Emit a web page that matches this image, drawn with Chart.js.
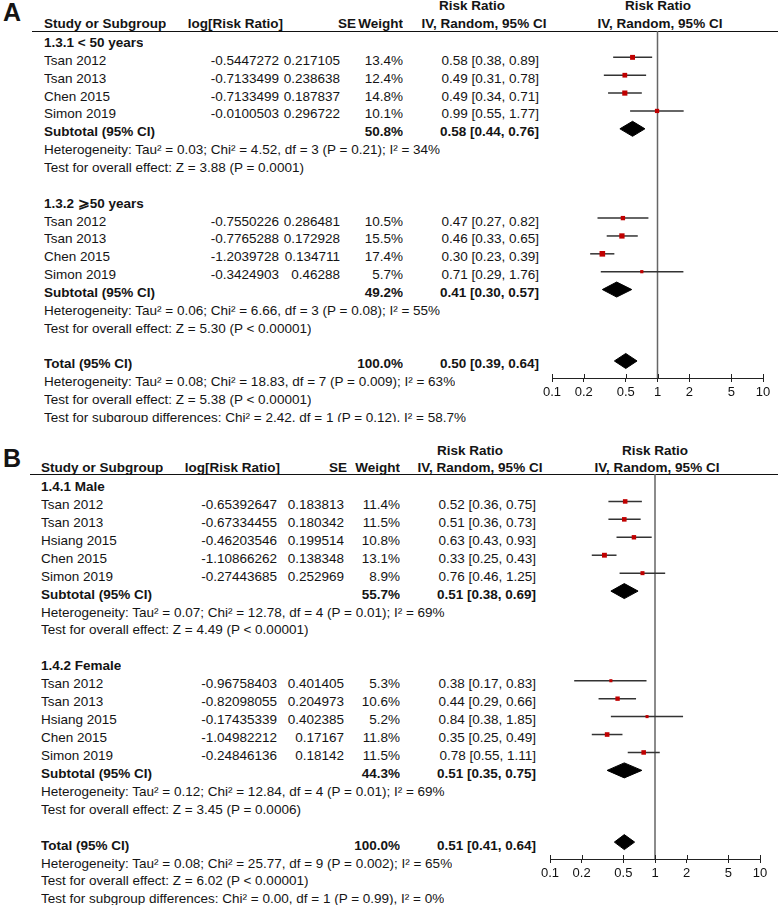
<!DOCTYPE html>
<html>
<head>
<meta charset="utf-8">
<script src="https://cdn.jsdelivr.net/npm/chart.js@4.4.1/dist/chart.umd.min.js"></script>
<style>
    html, body { margin: 0; padding: 0; background: #fff; }
    body { width: 778px; height: 905px; position: relative; overflow: hidden;
           font-family: "Liberation Sans", Arial, sans-serif; color: #141414; }
    .panel { position: absolute; left: 0; width: 778px; overflow: hidden; }
    .t { position: absolute; white-space: nowrap; font-size: 13.5px; height: 18px; line-height: 18px; overflow: hidden; }
    .b { font-weight: bold; }
    .rule { position: absolute; height: 1px; background: #111; }
    .lab { position: absolute; font-weight: bold; font-size: 25px; line-height: 28px; }
    canvas { position: absolute; }
</style>
</head>
<body>
<div id="panelA" class="panel" style="top:0;height:440px"></div>
<div id="panelB" class="panel" style="top:440px;height:465px"></div>
<script>
        // Axis ticks (risk ratio, log scale)
        const tickValues = [0.1, 0.2, 0.5, 1, 2, 5, 10];

        // Panel A, 1.3.1 < 50 years
        const studiesA1 = ['Tsan 2012', 'Tsan 2013', 'Chen 2015', 'Simon 2019'];
        const logRrA1 = [-0.5447272, -0.7133499, -0.7133499, -0.0100503];
        const seA1 = [0.217105, 0.238638, 0.187837, 0.296722];
        const weightA1 = [13.4, 12.4, 14.8, 10.1];
        const rrA1 = [0.58, 0.49, 0.49, 0.99];
        const lowA1 = [0.38, 0.31, 0.34, 0.55];
        const highA1 = [0.89, 0.78, 0.71, 1.77];

        // Panel A, 1.3.2 >= 50 years
        const studiesA2 = ['Tsan 2012', 'Tsan 2013', 'Chen 2015', 'Simon 2019'];
        const logRrA2 = [-0.7550226, -0.7765288, -1.2039728, -0.3424903];
        const seA2 = [0.286481, 0.172928, 0.134711, 0.46288];
        const weightA2 = [10.5, 15.5, 17.4, 5.7];
        const rrA2 = [0.47, 0.46, 0.30, 0.71];
        const lowA2 = [0.27, 0.33, 0.23, 0.29];
        const highA2 = [0.82, 0.65, 0.39, 1.76];

        // Panel B, 1.4.1 Male
        const studiesB1 = ['Tsan 2012', 'Tsan 2013', 'Hsiang 2015', 'Chen 2015', 'Simon 2019'];
        const logRrB1 = ['-0.65392647', '-0.67334455', '-0.46203546', '-1.10866262', '-0.27443685'];
        const seB1 = [0.183813, 0.180342, 0.199514, 0.138348, 0.252969];
        const weightB1 = [11.4, 11.5, 10.8, 13.1, 8.9];
        const rrB1 = [0.52, 0.51, 0.63, 0.33, 0.76];
        const lowB1 = [0.36, 0.36, 0.43, 0.25, 0.46];
        const highB1 = [0.75, 0.73, 0.93, 0.43, 1.25];

        // Panel B, 1.4.2 Female
        const studiesB2 = ['Tsan 2012', 'Tsan 2013', 'Hsiang 2015', 'Chen 2015', 'Simon 2019'];
        const logRrB2 = ['-0.96758403', '-0.82098055', '-0.17435339', '-1.04982212', '-0.24846136'];
        const seB2 = [0.401405, 0.204973, 0.402385, 0.17167, 0.18142];
        const weightB2 = [5.3, 10.6, 5.2, 11.8, 11.5];
        const rrB2 = [0.38, 0.44, 0.84, 0.35, 0.78];
        const lowB2 = [0.17, 0.29, 0.38, 0.25, 0.55];
        const highB2 = [0.83, 0.66, 1.85, 0.49, 1.11];

        // Subtotals (per subgroup) and totals
        const subWeightA = [50.8, 49.2];
        const subRrA = [0.58, 0.41];
        const subLowA = [0.44, 0.30];
        const subHighA = [0.76, 0.57];
        const subWeightB = [55.7, 44.3];
        const subRrB = [0.51, 0.51];
        const subLowB = [0.38, 0.35];
        const subHighB = [0.69, 0.75];
        const totalRr = [0.50, 0.51];
        const totalLow = [0.39, 0.41];
        const totalHigh = [0.64, 0.64];

        const statsA = [
            ['Heterogeneity: Tau² = 0.03; Chi² = 4.52, df = 3 (P = 0.21); I² = 34%', 'Test for overall effect: Z = 3.88 (P = 0.0001)'],
            ['Heterogeneity: Tau² = 0.06; Chi² = 6.66, df = 3 (P = 0.08); I² = 55%', 'Test for overall effect: Z = 5.30 (P < 0.00001)'],
            ['Heterogeneity: Tau² = 0.08; Chi² = 18.83, df = 7 (P = 0.009); I² = 63%', 'Test for overall effect: Z = 5.38 (P < 0.00001)',
             'Test for subgroup differences: Chi² = 2.42, df = 1 (P = 0.12), I² = 58.7%']
        ];
        const statsB = [
            ['Heterogeneity: Tau² = 0.07; Chi² = 12.78, df = 4 (P = 0.01); I² = 69%', 'Test for overall effect: Z = 4.49 (P < 0.00001)'],
            ['Heterogeneity: Tau² = 0.12; Chi² = 12.84, df = 4 (P = 0.01); I² = 69%', 'Test for overall effect: Z = 3.45 (P = 0.0006)'],
            ['Heterogeneity: Tau² = 0.08; Chi² = 25.77, df = 9 (P = 0.002); I² = 65%', 'Test for overall effect: Z = 6.02 (P < 0.00001)',
             'Test for subgroup differences: Chi² = 0.00, df = 1 (P = 0.99), I² = 0%']
        ];

        const fmtCi = (r, l, h) => r.toFixed(2) + ' [' + l.toFixed(2) + ', ' + h.toFixed(2) + ']';

        // tick marks that cross the axis line
        const crossTicks = {
            id: 'crossTicks',
            afterDraw(chart) {
                const s = chart.scales.x;
                const ctx = chart.ctx;
                ctx.save();
                ctx.strokeStyle = '#222';
                ctx.lineWidth = 1;
                s.ticks.forEach(t => {
                    const x = Math.round(s.getPixelForValue(t.value)) + 0.5;
                    ctx.beginPath();
                    ctx.moveTo(x, s.top);
                    ctx.lineTo(x, s.top - 4);
                    ctx.stroke();
                });
                ctx.restore();
            }
        };

        function buildPanel(p) {
            const el = document.getElementById(p.id);
            const add = (text, bold, css) => {
                const d = document.createElement('div');
                d.className = 't' + (bold ? ' b' : '');
                d.textContent = text;
                Object.assign(d.style, css);
                el.appendChild(d);
                return d;
            };
            const top = y => (y - p.top - 9) + 'px';
            const left = (x, y, text, bold) => add(text, bold, { left: x + 'px', top: top(y) });
            const right = (x, y, text, bold) => add(text, bold, { left: (x - 200) + 'px', width: '200px', textAlign: 'right', top: top(y) });
            const center = (x, y, text, bold) => add(text, bold, { left: (x - 150) + 'px', width: '300px', textAlign: 'center', top: top(y) });

            const lab = document.createElement('div');
            lab.className = 'lab';
            lab.textContent = p.label;
            lab.style.left = '3px';
            lab.style.top = (p.labelY - p.top - 14) + 'px';
            el.appendChild(lab);

            // header
            const c = p.cols;
            center(c.rr1, p.h1, 'Risk Ratio', true);
            center(c.rr2, p.h1, 'Risk Ratio', true);
            left(c.study, p.h2, 'Study or Subgroup', true);
            right(c.logH, p.h2, 'log[Risk Ratio]', true);
            right(c.seH, p.h2, 'SE', true);
            right(c.w, p.h2, 'Weight', true);
            center(c.iv1, p.h2, 'IV, Random, 95% CI', true);
            center(c.iv2, p.h2, 'IV, Random, 95% CI', true);
            const rule = document.createElement('div');
            rule.className = 'rule';
            rule.style.left = p.ruleX + 'px';
            rule.style.width = (778 - p.ruleX) + 'px';
            rule.style.top = (p.ruleY - p.top) + 'px';
            el.appendChild(rule);

            const rowY = r => p.row0 + r * p.pitch;
            const ciSets = [];
            const squares = [];
            const radii = [];
            const diamonds = [];
            let r = 0;
            p.groups.forEach((g, gi) => {
                left(c.study, rowY(r), g.title, true);
                r++;
                g.studies.forEach((name, i) => {
                    const y = rowY(r);
                    left(c.study, y, name);
                    right(c.log, y, String(g.logRr[i]));
                    right(c.se, y, String(g.se[i]));
                    right(c.w, y, g.weight[i].toFixed(1) + '%');
                    right(c.ci, y, fmtCi(g.rr[i], g.low[i], g.high[i]));
                    ciSets.push([{ x: g.low[i], y: r }, { x: g.high[i], y: r }]);
                    squares.push({ x: g.rr[i], y: r });
                    radii.push(Math.sqrt(g.weight[i]) * 0.95);
                    r++;
                });
                left(c.study, rowY(r), 'Subtotal (95% CI)', true);
                right(c.w, rowY(r), p.subWeight[gi].toFixed(1) + '%', true);
                right(c.ci, rowY(r), fmtCi(p.subRr[gi], p.subLow[gi], p.subHigh[gi]), true);
                diamonds.push([p.subRr[gi], p.subLow[gi], p.subHigh[gi], r]);
                r++;
                p.stats[gi].forEach(s => { left(c.study, rowY(r), s); r++; });
                r++;
            });
            left(c.study, rowY(r), 'Total (95% CI)', true);
            right(c.w, rowY(r), '100.0%', true);
            right(c.ci, rowY(r), fmtCi(totalRr[p.idx], totalLow[p.idx], totalHigh[p.idx]), true);
            diamonds.push([totalRr[p.idx], totalLow[p.idx], totalHigh[p.idx], r]);
            r++;
            const last = p.stats[p.stats.length - 1];
            last.forEach((s, i) => {
                const d = left(c.study, rowY(r), s);
                if (i === last.length - 1 && p.cutLast) d.style.height = (p.cutLast - (rowY(r) - 9)) + 'px';
                r++;
            });

            // chart
            const canvas = document.createElement('canvas');
            canvas.width = 778 - p.canvasLeft;
            canvas.height = p.canvasH;
            canvas.style.left = p.canvasLeft + 'px';
            canvas.style.top = '0px';
            el.appendChild(canvas);

            const markY0 = p.row0 - 3.5;
            const yMin = (p.ruleY - markY0) / p.pitch;
            const yMax = (p.axisY - markY0) / p.pitch;
            const half = 7.5 / p.pitch;

            const datasets = [{
                data: squares,
                showLine: false,
                pointStyle: 'rect',
                pointRadius: radii,
                pointBackgroundColor: '#c00000',
                pointBorderWidth: 0
            }];
            diamonds.forEach(([m, lo, hi, row]) => {
                datasets.push({
                    data: [{ x: lo, y: row }, { x: m, y: row - half }, { x: hi, y: row }],
                    borderColor: '#000', borderWidth: 1, pointRadius: 0, fill: false
                });
                datasets.push({
                    data: [{ x: lo, y: row }, { x: m, y: row + half }, { x: hi, y: row }],
                    borderColor: '#000', borderWidth: 1, pointRadius: 0,
                    backgroundColor: '#000', fill: '-1'
                });
            });
            ciSets.forEach(pts => {
                datasets.push({ data: pts, borderColor: '#333', borderWidth: 1.5, pointRadius: 0 });
            });
            datasets.push({
                data: [{ x: 1, y: yMin }, { x: 1, y: yMax }],
                borderColor: '#666', borderWidth: 1.5, pointRadius: 0
            });

            new Chart(canvas.getContext('2d'), {
                type: 'line',
                data: { datasets: datasets },
                options: {
                    responsive: false,
                    animation: false,
                    events: [],
                    layout: { padding: { left: p.padL, right: p.padR, top: p.ruleY - p.top, bottom: 0 } },
                    plugins: { legend: { display: false }, tooltip: { enabled: false } },
                    elements: { line: { tension: 0 } },
                    scales: {
                        x: {
                            type: 'logarithmic',
                            min: 0.1,
                            max: 10,
                            afterBuildTicks: s => { s.ticks = tickValues.map(v => ({ value: v })); },
                            afterFit: s => { s.height = p.canvasH - (p.axisY - p.top); },
                            ticks: {
                                autoSkip: false, maxRotation: 0, padding: 3, color: '#111',
                                font: { family: 'Liberation Sans, Arial, sans-serif', size: 13 },
                                callback: v => String(v)
                            },
                            grid: { drawOnChartArea: false, tickLength: 4, color: '#222', lineWidth: 1 },
                            border: { display: true, color: '#222', width: 1 }
                        },
                        y: { type: 'linear', display: false, reverse: true, min: yMin, max: yMax }
                    }
                },
                plugins: [crossTicks]
            });
        }

        buildPanel({
            id: 'panelA', idx: 0, top: 0, label: 'A', labelY: 12,
            h1: 6, h2: 24, ruleY: 31, ruleX: 32, row0: 43, pitch: 17.86,
            cols: { study: 44, log: 279, se: 340, w: 403, ci: 539, logH: 283, seH: 356, rr1: 472, iv1: 484, rr2: 658, iv2: 660 },
            groups: [
                { title: '1.3.1 < 50 years', studies: studiesA1, logRr: logRrA1, se: seA1, weight: weightA1, rr: rrA1, low: lowA1, high: highA1 },
                { title: '1.3.2 \u2A7E50 years', studies: studiesA2, logRr: logRrA2, se: seA2, weight: weightA2, rr: rrA2, low: lowA2, high: highA2 }
            ],
            subWeight: subWeightA, subRr: subRrA, subLow: subLowA, subHigh: subHighA, stats: statsA,
            cutLast: 422,
            canvasLeft: 530, canvasH: 440, padL: 22, padR: 15, axisY: 378
        });

        buildPanel({
            id: 'panelB', idx: 1, top: 440, label: 'B', labelY: 458,
            h1: 451, h2: 468, ruleY: 474, ruleX: 30, row0: 487, pitch: 17.93,
            cols: { study: 41, log: 277, se: 344, w: 400, ci: 536, logH: 280, seH: 347, rr1: 470, iv1: 480, rr2: 655, iv2: 657 },
            groups: [
                { title: '1.4.1 Male', studies: studiesB1, logRr: logRrB1, se: seB1, weight: weightB1, rr: rrB1, low: lowB1, high: highB1 },
                { title: '1.4.2 Female', studies: studiesB2, logRr: logRrB2, se: seB2, weight: weightB2, rr: rrB2, low: lowB2, high: highB2 }
            ],
            subWeight: subWeightB, subRr: subRrB, subLow: subLowB, subHigh: subHighB, stats: statsB,
            cutLast: 0,
            canvasLeft: 530, canvasH: 465, padL: 20, padR: 18, axisY: 859
        });
</script>
</body>
</html>
